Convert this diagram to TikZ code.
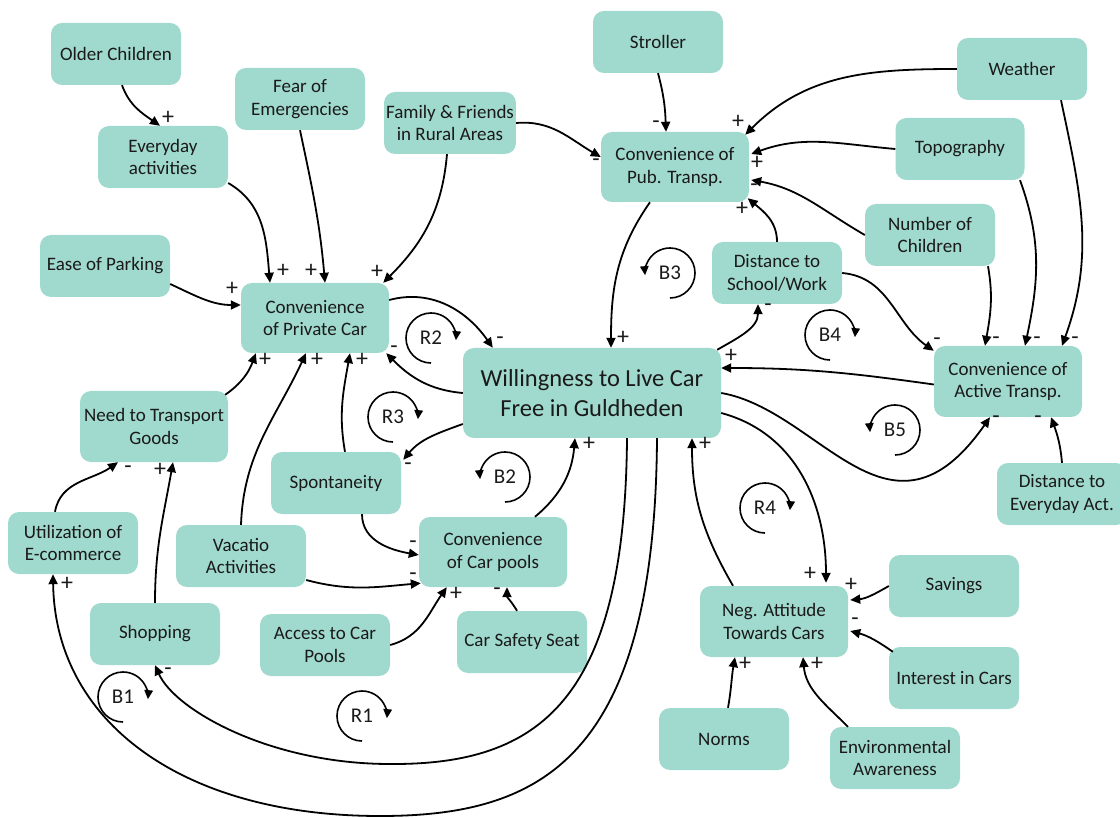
\documentclass[tikz,border=0pt]{standalone}
\usepackage{fontspec}
\setmainfont{Carlito}
\usetikzlibrary{arrows.meta,calc}
\definecolor{boxfill}{HTML}{A0D9CD}
\definecolor{ink}{HTML}{1A1A1A}

\begin{document}
\begin{tikzpicture}[x=1pt,y=1pt,
  box/.style={rectangle, rounded corners=11pt, fill=boxfill, text=ink,
    minimum width=130pt, minimum height=62pt, align=center, inner sep=2pt,
    font=\fontsize{19}{22.5}\selectfont},
  wide/.style={box, minimum width=148pt, minimum height=70pt},
  link/.style={line width=1.8pt, -{Triangle[length=10pt,width=9pt]}},
  sgn/.style={font=\fontsize{24}{24}\selectfont, inner sep=0pt, text=ink},
  loopline/.style={line width=1.6pt, -{Triangle[length=9pt,width=8.5pt]}},
  looptag/.style={font=\fontsize{21}{21}\selectfont, text=ink, inner sep=0pt}]

\useasboundingbox (0,0) rectangle (1120,-818);

% ---- variables ----
\node[box] (oc) at (116,-54) {Older Children};
\node[box] (fe) at (300,-99) {Fear of\\Emergencies};
\node[box] (ev) at (163,-157) {Everyday\\activities};
\node[box] (ff) at (450,-123) {Family \& Friends\\in Rural Areas};
\node[box] (st) at (658,-42) {Stroller};
\node[box] (we) at (1022,-69) {Weather};
\node[wide] (pt) at (675,-167) {Convenience of\\Pub. Transp.};
\node[box, minimum width=129pt] (to) at (960,-149) {Topography};
\node[box] (nc) at (930,-235) {Number of\\Children};
\node[box] (ep) at (105,-266) {Ease of Parking};
\node[box] (ds) at (777,-273) {Distance to\\School/Work};
\node[wide] (pc) at (315,-318) {Convenience\\of Private Car};
\node[box, minimum width=258pt, minimum height=90pt,
      font=\fontsize{24.5}{30}\selectfont] (wi) at (592,-393)
      {Willingness to Live Car\\Free in Guldheden};
\node[wide, minimum height=71pt] (at) at (1008,-381.5) {Convenience of\\Active Transp.};
\node[wide, minimum height=71pt] (ng) at (154,-426.5) {Need to Transport\\Goods};
\node[box] (sp) at (336,-483) {Spontaneity};
\node[box] (de) at (1062,-494) {Distance to\\Everyday Act.};
\node[box] (ec) at (73,-543) {Utilization of\\E-commerce};
\node[box] (va) at (241,-556) {Vacatio\\Activities};
\node[wide] (cp) at (493,-552) {Convenience\\of Car pools};
\node[box] (sh) at (155,-634) {Shopping};
\node[box] (ac) at (325,-645) {Access to Car\\Pools};
\node[box] (cs) at (522,-642) {Car Safety Seat};
\node[box] (sv) at (954,-586) {Savings};
\node[wide, minimum height=71pt] (na) at (774,-621.5) {Neg. Attitude\\Towards Cars};
\node[box] (ic) at (954,-678) {Interest in Cars};
\node[box] (no) at (724,-739) {Norms};
\node[box] (ea) at (895,-758) {Environmental\\Awareness};

% ---- causal links ----
\draw[link] ([xshift=6pt]oc.south) to[out=-70,in=145] ([xshift=-3pt]ev.north)
  node[sgn] at (168,-118) {+};
\draw[link] ([yshift=-26pt]ev.east) to[out=-30,in=95] ([xshift=-45pt]pc.north)
  node[sgn] at (283,-271) {+};
\draw[link] (fe.south) to[out=-78,in=95] ([xshift=10pt]pc.north)
  node[sgn] at (311,-271) {+};
\draw[link] ([xshift=-3pt]ff.south) to[out=-95,in=45] ([xshift=-6pt]pc.north east)
  node[sgn] at (377,-272) {+};
\draw[link] ([yshift=-18pt]ep.east) to[out=-25,in=180] ([yshift=13pt]pc.west)
  node[sgn] at (232,-289) {+};
\draw[link] ([xshift=-3pt,yshift=-4pt]ng.north east) to[out=35,in=-110] ([xshift=15pt]pc.south west)
  node[sgn] at (265,-360) {+};
\draw[link] (va.north) to[out=88,in=-115] ([xshift=-9pt]pc.south)
  node[sgn] at (317,-360) {+};
\draw[link] ([xshift=9pt]sp.north) to[out=100,in=-100] ([xshift=35pt]pc.south)
  node[sgn] at (362,-360) {+};
\draw[link] ([yshift=18pt]pc.east) to[out=15,in=125] ([xshift=30pt]wi.north west)
  node[sgn] at (500,-341) {-};
\draw[link] (wi.west) to[out=175,in=-45] ([xshift=-3pt]pc.south east)
  node[sgn] at (394,-350) {-};
\draw[link] ([yshift=-31pt]wi.west) to[out=200,in=50] ([xshift=2pt,yshift=-8pt]sp.north east)
  node[sgn] at (408,-467) {-};
\draw[link] ([xshift=26pt]sp.south) to[out=-90,in=170] ([yshift=-3pt]cp.west)
  node[sgn] at (413,-545) {-};
\draw[link] ([yshift=-24pt]va.east) to[out=-15,in=185] ([xshift=2pt,yshift=4pt]cp.south west)
  node[sgn] at (413,-577) {-};
\draw[link] (ac.east) to[out=15,in=-125] ([xshift=28pt]cp.south west)
  node[sgn] at (456,-594) {+};
\draw[link] ([xshift=-5pt]cs.north) to[out=120,in=-90] ([xshift=14pt]cp.south)
  node[sgn] at (497,-592) {-};
\draw[link] ([xshift=42pt]cp.north) to[out=40,in=-95] ([xshift=-17pt]wi.south)
  node[sgn] at (589,-444) {+};
\draw[link] ([xshift=-25pt]pt.south) to[out=-125,in=90] ([xshift=19pt]wi.north)
  node[sgn] at (623,-338) {+};
\draw[link] (st.south) to[out=-75,in=92] ([xshift=-9pt]pt.north)
  node[sgn] at (656,-125) {-};
\draw[link] (ff.east) to[out=5,in=150] ([yshift=10pt]pt.west)
  node[sgn] at (596,-163) {-};
\draw[link] (we.west) to[out=180,in=45] ([xshift=-4pt,yshift=-3pt]pt.north east)
  node[sgn] at (738,-122) {+};
\draw[link] (to.west) to[out=175,in=20] ([xshift=2pt,yshift=13pt]pt.east)
  node[sgn] at (757,-163) {+};
\draw[link] (nc.west) to[out=150,in=-10] ([xshift=2pt,yshift=-13pt]pt.east)
  node[sgn] at (754,-188) {-};
\draw[link] (ds.north) to[out=90,in=-40] ([xshift=-1.5pt,yshift=4pt]pt.south east)
  node[sgn] at (742,-209) {+};
\draw[link] ([xshift=-4pt,yshift=-2pt]wi.north east) to[out=30,in=-90] ([xshift=-19pt]ds.south)
  node[sgn] at (768,-308) {-};
\draw[link] (ds.east) to[out=-5,in=145] ([yshift=-5pt]at.north west)
  node[sgn] at (937,-342) {-};
\draw[link] ([xshift=58pt]nc.south) to[out=-80,in=80] ([xshift=-23pt]at.north)
  node[sgn] at (996,-341) {-};
\draw[link] ([xshift=60pt]to.south) to[out=-70,in=78] ([xshift=17pt]at.north)
  node[sgn] at (1037,-341) {-};
\draw[link] ([xshift=39pt]we.south) to[out=-78,in=70] ([xshift=54pt]at.north)
  node[sgn] at (1075,-341) {-};
\draw[link] ([yshift=-3pt]at.west) to[out=172,in=0] ([yshift=25pt]wi.east)
  node[sgn] at (731,-356) {+};
\draw[link] (wi.east) .. controls (820,-410) and (890,-560) .. ([xshift=-18pt]at.south)
  node[sgn] at (996,-420) {-};
\draw[link] (de.north) to[out=95,in=-70] ([xshift=43pt]at.south)
  node[sgn] at (1038,-420) {-};
\draw[link] ([yshift=-20pt]wi.east) to[out=-15,in=90] ([xshift=52pt,yshift=3pt]na.north)
  node[sgn] at (810,-574) {+};
\draw[link] ([xshift=-41pt]na.north) to[out=120,in=-90] ([xshift=100pt]wi.south)
  node[sgn] at (705,-444) {+};
\draw[link] (sv.west) to[out=210,in=5] ([xshift=2pt,yshift=21.5pt]na.east)
  node[sgn] at (851,-585) {+};
\draw[link] ([xshift=4pt,yshift=-5pt]ic.north west) to[out=145,in=-15] ([xshift=2pt,yshift=-9.5pt]na.east)
  node[sgn] at (855,-622) {-};
\draw[link] ([xshift=4pt]no.north) to[out=80,in=-100] ([xshift=-39pt]na.south)
  node[sgn] at (745,-664) {+};
\draw[link] ([xshift=-47pt]ea.north) to[out=135,in=-85] ([xshift=29pt]na.south)
  node[sgn] at (817,-664) {+};
\draw[link] ([xshift=35pt]wi.south) .. controls (625,-700) and (540,-765) .. (390,-764)
  .. controls (270,-764) and (175,-710) .. (sh.south)
  node[sgn] at (168,-672) {-};
\draw[link] ([xshift=65pt]wi.south) .. controls (655,-760) and (540,-816) .. (380,-816)
  .. controls (180,-816) and (55,-720) .. ([xshift=-20pt]ec.south)
  node[sgn] at (67,-584) {+};
\draw[link] ([xshift=-18pt]ec.north) to[out=80,in=-145] ([xshift=-36pt]ng.south)
  node[sgn] at (128,-470) {-};
\draw[link] (sh.north) to[out=90,in=-100] ([xshift=19pt]ng.south)
  node[sgn] at (160,-470) {+};

% ---- loop markers ----
\node[looptag] (r1) at (362,-716) {R1};
\node[looptag] (r2) at (431,-338) {R2};
\node[looptag] (r3) at (393,-417) {R3};
\node[looptag] (r4) at (765,-508) {R4};
\node[looptag] (b1) at (123,-697) {B1};
\node[looptag] (b2) at (505,-477) {B2};
\node[looptag] (b3) at (670,-273) {B3};
\node[looptag] (b4) at (830,-335) {B4};
\node[looptag] (b5) at (895,-430) {B5};

\foreach \lp in {r1,r2,r3,r4,b1,b4}
  \draw[loopline] ([yshift=-25pt]\lp.center) arc[start angle=270, end angle=-5, radius=25pt];
\foreach \lp in {b2,b3,b5}
  \draw[loopline] ([yshift=-25pt]\lp.center) arc[start angle=-90, end angle=185, radius=25pt];

\end{tikzpicture}
\end{document}
